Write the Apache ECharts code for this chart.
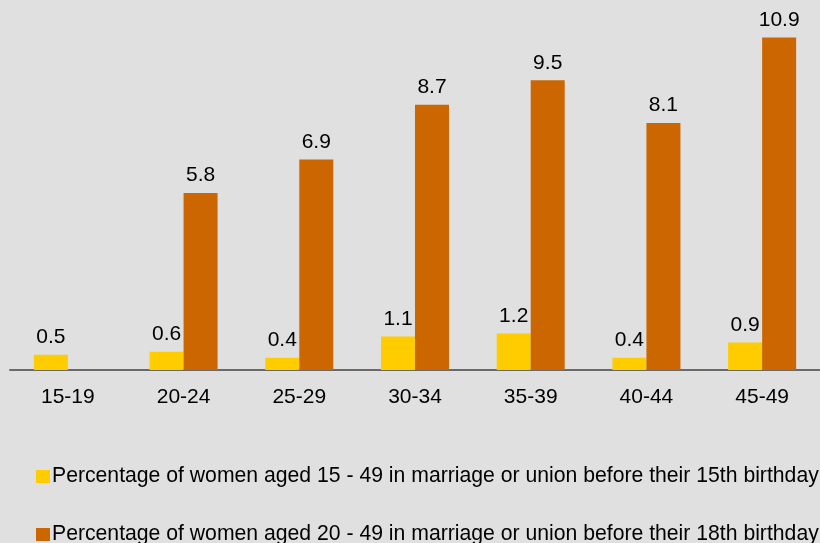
<!DOCTYPE html>
<html>
<head>
<meta charset="utf-8">
<script src="https://cdn.jsdelivr.net/npm/echarts@6/dist/echarts.min.js"></script>
<style>
  html, body { margin: 0; padding: 0; background: #e0e0e0; }
  #chart { width: 820px; height: 543px; }
</style>
</head>
<body>
<div id="chart"></div>
<script>
// 年龄组
var ageGroups = ["15-19", "20-24", "25-29", "30-34", "35-39", "40-44", "45-49"];
// 15岁前结婚比例
var before15 = [0.5, 0.6, 0.4, 1.1, 1.2, 0.4, 0.9];
// 18岁前结婚比例 (15-19 无数据)
var before18 = [null, 5.8, 6.9, 8.7, 9.5, 8.1, 10.9];

var name15 = "Percentage of women aged 15 - 49 in marriage or union before their 15th birthday";
var name18 = "Percentage of women aged 20 - 49 in marriage or union before their 18th birthday";

var font = "'Liberation Sans', Arial, sans-serif";
var fs = 21;

function legendAt(top, name) {
  return {
    orient: "vertical",
    left: 31,
    top: top,
    itemWidth: 14,
    itemHeight: 13,
    itemGap: 0,
    icon: "rect",
    textStyle: { fontFamily: font, fontSize: 21.2, color: "#000", padding: [0, 0, 0, -3] },
    data: [name]
  };
}

var chart = echarts.init(document.getElementById("chart"));
chart.setOption({
  backgroundColor: "#e0e0e0",
  animation: false,
  grid: { left: 10, right: -5, top: 4, bottom: 173 },
  legend: [legendAt(461, name15), legendAt(519, name18)],
  xAxis: {
    type: "category",
    data: ageGroups,
    axisLine: { lineStyle: { color: "#6a6a6a", width: 2 } },
    axisTick: { show: false },
    axisLabel: { fontFamily: font, fontSize: fs, color: "#000", margin: 17 }
  },
  yAxis: {
    type: "value",
    min: 0,
    max: 12,
    show: false,
    splitLine: { show: false }
  },
  series: [
    {
      name: name15,
      type: "bar",
      data: before15,
      barWidth: 34,
      barGap: "0%",
      itemStyle: { color: "#ffcc00" },
      label: { show: true, position: "top", distance: 7, fontFamily: font, fontSize: fs, color: "#000" }
    },
    {
      name: name18,
      type: "bar",
      data: before18,
      barWidth: 34,
      itemStyle: { color: "#cc6600" },
      label: { show: true, position: "top", distance: 7, fontFamily: font, fontSize: fs, color: "#000" }
    }
  ]
});
</script>
</body>
</html>
